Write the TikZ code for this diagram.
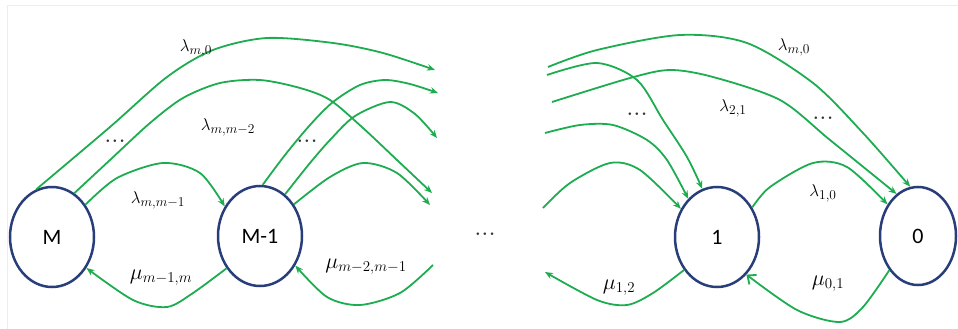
\RequirePackage{fix-cm}
\documentclass[tikz,border=0pt]{standalone}
\usepackage{fontspec}
\usetikzlibrary{shapes.geometric,arrows.meta}
\newfontfamily\nodefont{Carlito}
\DeclareMathSizes{17}{17}{13.5}{11}
\DeclareMathSizes{22}{22}{15}{11}
\definecolor{grn}{RGB}{30,172,80}
\definecolor{navy}{RGB}{40,62,122}
\newcommand{\threedots}{.\kern1.5pt.\kern1.5pt.}
\begin{document}
\begin{tikzpicture}[x=1pt,y=-1pt,
  state/.style={ellipse, draw=navy, line width=2.5pt, minimum width=84pt, minimum height=100pt, inner sep=0pt, font=\nodefont\fontsize{22}{26}\selectfont},
  conn/.style={draw=grn, line width=1.8pt, -{Stealth[length=8pt,width=6.5pt]}},
  lab/.style={font=\fontsize{17}{20}\selectfont, inner sep=0pt},
  mulab/.style={font=\fontsize{22}{26}\selectfont, inner sep=0pt},
  dots/.style={font=\fontsize{18}{20}\selectfont\bfseries, inner sep=0pt, text=black!80}]
\useasboundingbox (0,0) rectangle (958,329);
\draw[black!7, line width=0.8pt] (7,329) -- (7,5) -- (958,5);
% states
\node[state] (M) at (52,237) {M};
\node[state] (M1) at (260,236) {M-1};
\node[state] (S1) at (717,237) {1};
\node[state, minimum width=76pt, minimum height=98pt] (S0) at (918,236) {0};
% free ends
\coordinate (L1) at (435,70);
\coordinate (L2) at (438,93);
\coordinate (L3) at (437,138);
\coordinate (L4) at (432,193);
\coordinate (L5) at (430,205);
\coordinate (Ls) at (433,265);
\coordinate (Ra) at (548,67);
\coordinate (Rb) at (547,75);
\coordinate (Rc) at (552,102);
\coordinate (Rd) at (545,133);
\coordinate (Re) at (543,208);
\coordinate (Rm) at (545,272);
% left connectors
\draw[conn] plot[smooth] coordinates {(M.108) (110,127) (167,77) (213,50) (267,38) (333,43) (383,53) (L1)};
\draw[conn] plot[smooth] coordinates {(M.63) (110,160) (150,123) (183,98) (220,83) (260,80) (300,88) (330,100) (363,128) (397,160) (L4)};
\draw[conn] plot[smooth] coordinates {(M.44) (117,178) (163,163) (200,173) (M1.140)};
\draw[conn] plot[smooth] coordinates {(M1.224) (193,293) (167,307) (133,300) (M.-42)};
\draw[conn] plot[smooth] coordinates {(M1.87) (285,155) (310,125) (333,102) (360,85) (385,80) (410,84) (L2)};
\draw[conn] plot[smooth] coordinates {(M1.59) (310,163) (330,140) (355,116) (390,102) (415,114) (L3)};
\draw[conn] plot[smooth] coordinates {(M1.43) (330,177) (363,163) (397,173) (L5)};
\draw[conn] plot[smooth] coordinates {(Ls) (400,293) (360,305) (327,297) (M1.-40)};
% right connectors
\draw[conn] plot[smooth] coordinates {(Ra) (597,50) (680,35) (747,43) (813,83) (863,133) (S0.99)};
\draw[conn] plot[smooth] coordinates {(Rb) (597,63) (637,80) (663,120) (687,157) (S1.107)};
\draw[conn] plot[smooth] coordinates {(Rc) (630,78) (670,70) (713,77) (780,100) (830,140) (S0.117)};
\draw[conn] plot[smooth] coordinates {(Rd) (580,125) (613,125) (647,140) (667,160) (S1.127)};
\draw[conn] plot[smooth] coordinates {(Re) (570,183) (610,163) (640,170) (S1.142)};
\draw[conn] plot[smooth] coordinates {(S1.40) (770,187) (813,163) (847,167) (S0.134)};
\draw[conn] plot[smooth] coordinates {(S1.225) (653,293) (627,305) (597,300) (Rm)};
\draw[conn, -{Straight Barb[length=7pt,width=12pt]}] plot[smooth] coordinates {(S0.230) (863,307) (840,322) (797,310) (S1.-52)};
% labels
\node[lab] (lm0a) at (196,48) {$\lambda_{m,0}$};
\node[lab] (lmm2) at (228,127) {$\lambda_{m,m-2}$};
\node[dots] (d1) at (115,141) {\threedots};
\node[dots] (d2) at (307,141) {\threedots};
\node[lab] (lmm1) at (158,200) {$\lambda_{m,m-1}$};
\node[mulab] (mu1) at (161,278) {$\mu_{m-1,m}$};
\node[mulab] (mu2) at (366,267) {$\mu_{m-2,m-1}$};
\node[dots] (dm) at (485,234) {\threedots};
\node[lab] (lm0b) at (794,47) {$\lambda_{m,0}$};
\node[lab] (l21) at (733,108) {$\lambda_{2,1}$};
\node[dots] (d3) at (637,114) {\threedots};
\node[dots] (d4) at (823,118) {\threedots};
\node[lab] (l10) at (823,193) {$\lambda_{1,0}$};
\node[mulab] (mu12) at (619,288) {$\mu_{1,2}$};
\node[mulab] (mu01) at (828,284) {$\mu_{0,1}$};
\end{tikzpicture}
\end{document}
